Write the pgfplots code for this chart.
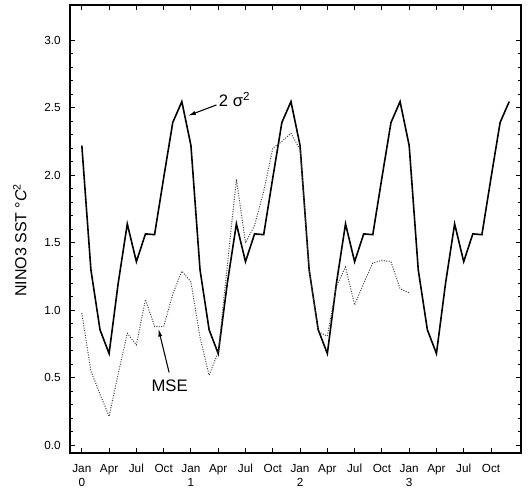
\documentclass[border=0pt]{standalone}
\usepackage{pgfplots}
\pgfplotsset{compat=1.18}
\usepackage{fontspec}
\setmainfont{Liberation Sans}
\usetikzlibrary{arrows.meta}
\pgfplotstableread{
m v
0 2.22
1 1.30
2 0.856
3 0.68
4 1.20
5 1.64
6 1.36
7 1.566
8 1.56
9 1.98
10 2.39
11 2.545
12 2.22
13 1.30
14 0.856
15 0.68
16 1.20
17 1.64
18 1.36
19 1.566
20 1.56
21 1.98
22 2.39
23 2.545
24 2.22
25 1.30
26 0.856
27 0.68
28 1.20
29 1.64
30 1.36
31 1.566
32 1.56
33 1.98
34 2.39
35 2.545
36 2.22
37 1.30
38 0.856
39 0.68
40 1.20
41 1.64
42 1.36
43 1.566
44 1.56
45 1.98
46 2.39
47 2.545
}\sigmadata
\pgfplotstableread{
m v
0 0.98
1 0.55
2 0.38
3 0.215
4 0.53
5 0.83
6 0.745
7 1.08
8 0.88
9 0.88
10 1.12
11 1.29
12 1.21
13 0.80
14 0.52
15 0.69
16 1.33
17 1.97
18 1.50
19 1.63
20 1.88
21 2.20
22 2.25
23 2.31
24 2.19
25 1.30
26 0.84
27 0.81
28 1.18
29 1.32
30 1.04
31 1.20
32 1.35
33 1.37
34 1.36
35 1.16
36 1.13
}\msedata
\begin{document}
\begin{tikzpicture}
\begin{axis}[
  name=ax,
  scale only axis,
  width=338.25pt, height=336pt,
  xmin=-1.3, xmax=48.3,
  ymin=-0.056, ymax=3.26,
  axis line style={line width=1.1pt},
  tick style={black, line width=0.7pt},
  tick align=inside,
  major tick length=4pt,
  minor tick length=2.4pt,
  xtick={0,3,...,45},
  xticklabels={{Jan\\0},Apr,Jul,Oct,{Jan\\1},Apr,Jul,Oct,{Jan\\2},Apr,Jul,Oct,{Jan\\3},Apr,Jul,Oct},
  xticklabel style={align=center, font=\fontsize{8.8}{10.5}\selectfont, yshift=-5pt},
  ytick={0,0.5,...,3.0},
  minor y tick num=4,
  yticklabel style={font=\fontsize{8.8}{10}\selectfont, xshift=-3.5pt, /pgf/number format/.cd, fixed, fixed zerofill, precision=1},
  /pgf/number format/assume math mode=true,
  ylabel={NINO3 SST °\textit{C}\textsuperscript{2}},
  ylabel style={font=\fontsize{12}{14}\selectfont, at={(axis description cs:-0.111,0.475)}, anchor=center},
  clip=false,
]
\addplot[black, line width=1.2pt, mark=none] table[x=m, y=v] {\sigmadata};
\addplot[black!75, line width=0.75pt, dash pattern=on 0.75pt off 1.1pt, mark=none] table[x=m, y=v] {\msedata};
\draw[-{Latex[length=6pt,width=3pt]}, line width=0.8pt] (axis cs:14.8,2.52) -- (axis cs:11.65,2.44);
\node[anchor=west, font=\fontsize{12.5}{14}\selectfont, inner sep=1pt] at (axis cs:14.9,2.56) {2 σ\textsuperscript{2}};
\draw[-{Latex[length=6pt,width=3pt]}, line width=0.8pt] (axis cs:9.6,0.54) -- (axis cs:8.42,0.865);
\node[font=\fontsize{12.5}{14}\selectfont, inner sep=1pt] at (axis cs:9.65,0.445) {MSE};
\end{axis}
\pgfresetboundingbox
\path[use as bounding box] ([xshift=-52.5pt,yshift=-27pt]ax.south west) rectangle ([xshift=7.5pt,yshift=3.75pt]ax.north east);
\end{tikzpicture}
\end{document}
